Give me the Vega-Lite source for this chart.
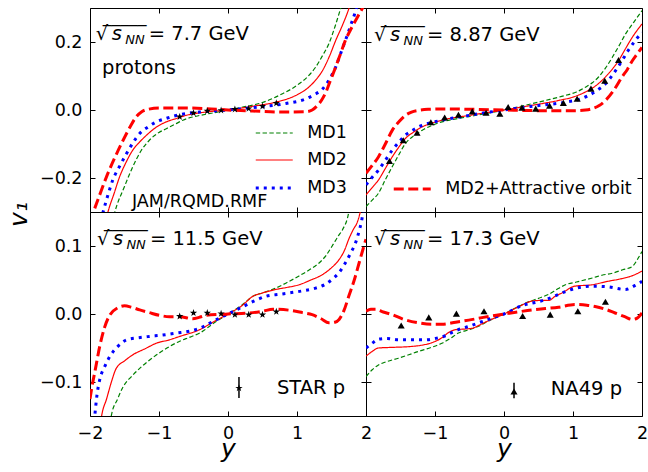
{
"$schema": "https://vega.github.io/schema/vega-lite/v6.json",
"background": "white",
"padding": {"left": 5, "top": 7, "right": 5, "bottom": 5},
"columns": 2,
"spacing": 0,
"bounds": "flush",
"datasets": {
"curves": [
{"panel":"A","model":"MD1","y":-1.70,"v1":-0.35},{"panel":"A","model":"MD1","y":-1.64,"v1":-0.30},{"panel":"A","model":"MD1","y":-1.50,"v1":-0.225},{"panel":"A","model":"MD1","y":-1.38,"v1":-0.167},{"panel":"A","model":"MD1","y":-1.26,"v1":-0.12},{"panel":"A","model":"MD1","y":-1.14,"v1":-0.089},{"panel":"A","model":"MD1","y":-1.0,"v1":-0.066},{"panel":"A","model":"MD1","y":-0.895,"v1":-0.055},{"panel":"A","model":"MD1","y":-0.75,"v1":-0.04},{"panel":"A","model":"MD1","y":-0.655,"v1":-0.03},{"panel":"A","model":"MD1","y":-0.5,"v1":-0.02},{"panel":"A","model":"MD1","y":-0.41,"v1":-0.016},{"panel":"A","model":"MD1","y":-0.2,"v1":-0.008},{"panel":"A","model":"MD1","y":0,"v1":0},{"panel":"A","model":"MD1","y":0.2,"v1":0.008},{"panel":"A","model":"MD1","y":0.45,"v1":0.019},{"panel":"A","model":"MD1","y":0.65,"v1":0.034},{"panel":"A","model":"MD1","y":0.79,"v1":0.048},{"panel":"A","model":"MD1","y":0.92,"v1":0.062},{"panel":"A","model":"MD1","y":1.03,"v1":0.077},{"panel":"A","model":"MD1","y":1.15,"v1":0.097},{"panel":"A","model":"MD1","y":1.27,"v1":0.126},{"panel":"A","model":"MD1","y":1.37,"v1":0.16},{"panel":"A","model":"MD1","y":1.46,"v1":0.194},{"panel":"A","model":"MD1","y":1.55,"v1":0.245},{"panel":"A","model":"MD1","y":1.63,"v1":0.297},{"panel":"A","model":"MD1","y":1.68,"v1":0.33},
{"panel":"A","model":"MD2","y":-1.80,"v1":-0.35},{"panel":"A","model":"MD2","y":-1.74,"v1":-0.30},{"panel":"A","model":"MD2","y":-1.65,"v1":-0.245},{"panel":"A","model":"MD2","y":-1.57,"v1":-0.196},{"panel":"A","model":"MD2","y":-1.48,"v1":-0.155},{"panel":"A","model":"MD2","y":-1.38,"v1":-0.118},{"panel":"A","model":"MD2","y":-1.28,"v1":-0.094},{"panel":"A","model":"MD2","y":-1.18,"v1":-0.074},{"panel":"A","model":"MD2","y":-1.05,"v1":-0.052},{"panel":"A","model":"MD2","y":-0.895,"v1":-0.035},{"panel":"A","model":"MD2","y":-0.75,"v1":-0.025},{"panel":"A","model":"MD2","y":-0.61,"v1":-0.016},{"panel":"A","model":"MD2","y":-0.32,"v1":-0.006},{"panel":"A","model":"MD2","y":0,"v1":0},{"panel":"A","model":"MD2","y":0.36,"v1":0.011},{"panel":"A","model":"MD2","y":0.69,"v1":0.023},{"panel":"A","model":"MD2","y":0.93,"v1":0.038},{"panel":"A","model":"MD2","y":1.05,"v1":0.05},{"panel":"A","model":"MD2","y":1.17,"v1":0.067},{"panel":"A","model":"MD2","y":1.27,"v1":0.088},{"panel":"A","model":"MD2","y":1.37,"v1":0.116},{"panel":"A","model":"MD2","y":1.47,"v1":0.158},{"panel":"A","model":"MD2","y":1.56,"v1":0.204},{"panel":"A","model":"MD2","y":1.66,"v1":0.25},{"panel":"A","model":"MD2","y":1.75,"v1":0.297},{"panel":"A","model":"MD2","y":1.80,"v1":0.33},
{"panel":"A","model":"MD3","y":-1.87,"v1":-0.35},{"panel":"A","model":"MD3","y":-1.81,"v1":-0.30},{"panel":"A","model":"MD3","y":-1.74,"v1":-0.25},{"panel":"A","model":"MD3","y":-1.67,"v1":-0.206},{"panel":"A","model":"MD3","y":-1.57,"v1":-0.165},{"panel":"A","model":"MD3","y":-1.47,"v1":-0.128},{"panel":"A","model":"MD3","y":-1.38,"v1":-0.097},{"panel":"A","model":"MD3","y":-1.28,"v1":-0.069},{"panel":"A","model":"MD3","y":-1.16,"v1":-0.05},{"panel":"A","model":"MD3","y":-1.04,"v1":-0.035},{"panel":"A","model":"MD3","y":-0.9,"v1":-0.025},{"panel":"A","model":"MD3","y":-0.75,"v1":-0.016},{"panel":"A","model":"MD3","y":-0.41,"v1":-0.006},{"panel":"A","model":"MD3","y":0,"v1":0},{"panel":"A","model":"MD3","y":0.45,"v1":0.009},{"panel":"A","model":"MD3","y":0.84,"v1":0.019},{"panel":"A","model":"MD3","y":1.13,"v1":0.033},{"panel":"A","model":"MD3","y":1.25,"v1":0.045},{"panel":"A","model":"MD3","y":1.37,"v1":0.062},{"panel":"A","model":"MD3","y":1.47,"v1":0.09},{"panel":"A","model":"MD3","y":1.56,"v1":0.126},{"panel":"A","model":"MD3","y":1.63,"v1":0.165},{"panel":"A","model":"MD3","y":1.70,"v1":0.204},{"panel":"A","model":"MD3","y":1.78,"v1":0.25},{"panel":"A","model":"MD3","y":1.85,"v1":0.292},{"panel":"A","model":"MD3","y":1.90,"v1":0.33},
{"panel":"A","model":"MD2+Attractive orbit","y":-2.0,"v1":-0.33},{"panel":"A","model":"MD2+Attractive orbit","y":-1.95,"v1":-0.30},{"panel":"A","model":"MD2+Attractive orbit","y":-1.86,"v1":-0.25},{"panel":"A","model":"MD2+Attractive orbit","y":-1.76,"v1":-0.196},{"panel":"A","model":"MD2+Attractive orbit","y":-1.64,"v1":-0.14},{"panel":"A","model":"MD2+Attractive orbit","y":-1.52,"v1":-0.089},{"panel":"A","model":"MD2+Attractive orbit","y":-1.42,"v1":-0.05},{"panel":"A","model":"MD2+Attractive orbit","y":-1.33,"v1":-0.02},{"panel":"A","model":"MD2+Attractive orbit","y":-1.25,"v1":-0.005},{"panel":"A","model":"MD2+Attractive orbit","y":-1.18,"v1":0.001},{"panel":"A","model":"MD2+Attractive orbit","y":-0.99,"v1":0.006},{"panel":"A","model":"MD2+Attractive orbit","y":-0.65,"v1":0.006},{"panel":"A","model":"MD2+Attractive orbit","y":-0.32,"v1":0.004},{"panel":"A","model":"MD2+Attractive orbit","y":0,"v1":0},{"panel":"A","model":"MD2+Attractive orbit","y":0.36,"v1":-0.003},{"panel":"A","model":"MD2+Attractive orbit","y":0.79,"v1":-0.006},{"panel":"A","model":"MD2+Attractive orbit","y":1.13,"v1":-0.005},{"panel":"A","model":"MD2+Attractive orbit","y":1.22,"v1":0.0},{"panel":"A","model":"MD2+Attractive orbit","y":1.29,"v1":0.012},{"panel":"A","model":"MD2+Attractive orbit","y":1.36,"v1":0.03},{"panel":"A","model":"MD2+Attractive orbit","y":1.42,"v1":0.053},{"panel":"A","model":"MD2+Attractive orbit","y":1.49,"v1":0.09},{"panel":"A","model":"MD2+Attractive orbit","y":1.56,"v1":0.126},{"panel":"A","model":"MD2+Attractive orbit","y":1.63,"v1":0.165},{"panel":"A","model":"MD2+Attractive orbit","y":1.70,"v1":0.204},{"panel":"A","model":"MD2+Attractive orbit","y":1.80,"v1":0.245},{"panel":"A","model":"MD2+Attractive orbit","y":1.90,"v1":0.282},{"panel":"A","model":"MD2+Attractive orbit","y":1.95,"v1":0.30},{"panel":"A","model":"MD2+Attractive orbit","y":2.0,"v1":0.32},

{"panel":"B","model":"MD1","y":-2.0,"v1":-0.284},{"panel":"B","model":"MD1","y":-1.91,"v1":-0.265},{"panel":"B","model":"MD1","y":-1.82,"v1":-0.245},{"panel":"B","model":"MD1","y":-1.72,"v1":-0.205},{"panel":"B","model":"MD1","y":-1.62,"v1":-0.167},{"panel":"B","model":"MD1","y":-1.52,"v1":-0.13},{"panel":"B","model":"MD1","y":-1.43,"v1":-0.099},{"panel":"B","model":"MD1","y":-1.31,"v1":-0.076},{"panel":"B","model":"MD1","y":-1.19,"v1":-0.06},{"panel":"B","model":"MD1","y":-1.05,"v1":-0.046},{"panel":"B","model":"MD1","y":-0.9,"v1":-0.035},{"panel":"B","model":"MD1","y":-0.66,"v1":-0.025},{"panel":"B","model":"MD1","y":-0.42,"v1":-0.016},{"panel":"B","model":"MD1","y":0,"v1":0},{"panel":"B","model":"MD1","y":0.31,"v1":0.014},{"panel":"B","model":"MD1","y":0.6,"v1":0.028},{"panel":"B","model":"MD1","y":0.89,"v1":0.043},{"panel":"B","model":"MD1","y":1.05,"v1":0.053},{"panel":"B","model":"MD1","y":1.18,"v1":0.067},{"panel":"B","model":"MD1","y":1.28,"v1":0.08},{"panel":"B","model":"MD1","y":1.37,"v1":0.097},{"panel":"B","model":"MD1","y":1.47,"v1":0.123},{"panel":"B","model":"MD1","y":1.57,"v1":0.155},{"panel":"B","model":"MD1","y":1.67,"v1":0.19},{"panel":"B","model":"MD1","y":1.76,"v1":0.223},{"panel":"B","model":"MD1","y":1.88,"v1":0.258},{"panel":"B","model":"MD1","y":2.0,"v1":0.292},
{"panel":"B","model":"MD2","y":-2.0,"v1":-0.25},{"panel":"B","model":"MD2","y":-1.91,"v1":-0.228},{"panel":"B","model":"MD2","y":-1.82,"v1":-0.206},{"panel":"B","model":"MD2","y":-1.72,"v1":-0.172},{"panel":"B","model":"MD2","y":-1.62,"v1":-0.138},{"panel":"B","model":"MD2","y":-1.52,"v1":-0.108},{"panel":"B","model":"MD2","y":-1.43,"v1":-0.084},{"panel":"B","model":"MD2","y":-1.31,"v1":-0.065},{"panel":"B","model":"MD2","y":-1.19,"v1":-0.05},{"panel":"B","model":"MD2","y":-1.05,"v1":-0.039},{"panel":"B","model":"MD2","y":-0.9,"v1":-0.03},{"panel":"B","model":"MD2","y":-0.51,"v1":-0.016},{"panel":"B","model":"MD2","y":0,"v1":0},{"panel":"B","model":"MD2","y":0.41,"v1":0.014},{"panel":"B","model":"MD2","y":0.79,"v1":0.028},{"panel":"B","model":"MD2","y":1.0,"v1":0.038},{"panel":"B","model":"MD2","y":1.18,"v1":0.053},{"panel":"B","model":"MD2","y":1.3,"v1":0.067},{"panel":"B","model":"MD2","y":1.42,"v1":0.087},{"panel":"B","model":"MD2","y":1.54,"v1":0.113},{"panel":"B","model":"MD2","y":1.66,"v1":0.145},{"panel":"B","model":"MD2","y":1.76,"v1":0.18},{"panel":"B","model":"MD2","y":1.86,"v1":0.214},{"panel":"B","model":"MD2","y":2.0,"v1":0.253},
{"panel":"B","model":"MD3","y":-2.0,"v1":-0.22},{"panel":"B","model":"MD3","y":-1.91,"v1":-0.198},{"panel":"B","model":"MD3","y":-1.82,"v1":-0.177},{"panel":"B","model":"MD3","y":-1.72,"v1":-0.148},{"panel":"B","model":"MD3","y":-1.62,"v1":-0.118},{"panel":"B","model":"MD3","y":-1.52,"v1":-0.094},{"panel":"B","model":"MD3","y":-1.43,"v1":-0.074},{"panel":"B","model":"MD3","y":-1.31,"v1":-0.058},{"panel":"B","model":"MD3","y":-1.19,"v1":-0.045},{"panel":"B","model":"MD3","y":-1.05,"v1":-0.037},{"panel":"B","model":"MD3","y":-0.9,"v1":-0.03},{"panel":"B","model":"MD3","y":-0.51,"v1":-0.016},{"panel":"B","model":"MD3","y":0,"v1":0},{"panel":"B","model":"MD3","y":0.41,"v1":0.011},{"panel":"B","model":"MD3","y":0.89,"v1":0.023},{"panel":"B","model":"MD3","y":1.1,"v1":0.032},{"panel":"B","model":"MD3","y":1.23,"v1":0.043},{"panel":"B","model":"MD3","y":1.35,"v1":0.058},{"panel":"B","model":"MD3","y":1.47,"v1":0.077},{"panel":"B","model":"MD3","y":1.59,"v1":0.108},{"panel":"B","model":"MD3","y":1.71,"v1":0.145},{"panel":"B","model":"MD3","y":1.8,"v1":0.175},{"panel":"B","model":"MD3","y":1.9,"v1":0.204},{"panel":"B","model":"MD3","y":2.0,"v1":0.228},
{"panel":"B","model":"MD2+Attractive orbit","y":-2.0,"v1":-0.186},{"panel":"B","model":"MD2+Attractive orbit","y":-1.91,"v1":-0.163},{"panel":"B","model":"MD2+Attractive orbit","y":-1.82,"v1":-0.138},{"panel":"B","model":"MD2+Attractive orbit","y":-1.72,"v1":-0.1},{"panel":"B","model":"MD2+Attractive orbit","y":-1.62,"v1":-0.06},{"panel":"B","model":"MD2+Attractive orbit","y":-1.52,"v1":-0.034},{"panel":"B","model":"MD2+Attractive orbit","y":-1.43,"v1":-0.016},{"panel":"B","model":"MD2+Attractive orbit","y":-1.34,"v1":-0.006},{"panel":"B","model":"MD2+Attractive orbit","y":-1.24,"v1":-0.001},{"panel":"B","model":"MD2+Attractive orbit","y":-1.1,"v1":0.002},{"panel":"B","model":"MD2+Attractive orbit","y":-0.9,"v1":0.003},{"panel":"B","model":"MD2+Attractive orbit","y":-0.42,"v1":0.002},{"panel":"B","model":"MD2+Attractive orbit","y":0,"v1":0},{"panel":"B","model":"MD2+Attractive orbit","y":0.55,"v1":-0.002},{"panel":"B","model":"MD2+Attractive orbit","y":1.03,"v1":-0.002},{"panel":"B","model":"MD2+Attractive orbit","y":1.18,"v1":0.0},{"panel":"B","model":"MD2+Attractive orbit","y":1.28,"v1":0.004},{"panel":"B","model":"MD2+Attractive orbit","y":1.38,"v1":0.013},{"panel":"B","model":"MD2+Attractive orbit","y":1.47,"v1":0.028},{"panel":"B","model":"MD2+Attractive orbit","y":1.59,"v1":0.058},{"panel":"B","model":"MD2+Attractive orbit","y":1.71,"v1":0.097},{"panel":"B","model":"MD2+Attractive orbit","y":1.79,"v1":0.12},{"panel":"B","model":"MD2+Attractive orbit","y":1.86,"v1":0.145},{"panel":"B","model":"MD2+Attractive orbit","y":1.93,"v1":0.165},{"panel":"B","model":"MD2+Attractive orbit","y":2.0,"v1":0.184},

{"panel":"C","model":"MD1","y":-1.72,"v1":-0.17},{"panel":"C","model":"MD1","y":-1.69,"v1":-0.149},{"panel":"C","model":"MD1","y":-1.6,"v1":-0.125},{"panel":"C","model":"MD1","y":-1.52,"v1":-0.107},{"panel":"C","model":"MD1","y":-1.4,"v1":-0.092},{"panel":"C","model":"MD1","y":-1.28,"v1":-0.08},{"panel":"C","model":"MD1","y":-1.14,"v1":-0.068},{"panel":"C","model":"MD1","y":-0.99,"v1":-0.057},{"panel":"C","model":"MD1","y":-0.85,"v1":-0.048},{"panel":"C","model":"MD1","y":-0.7,"v1":-0.04},{"panel":"C","model":"MD1","y":-0.55,"v1":-0.034},{"panel":"C","model":"MD1","y":-0.41,"v1":-0.028},{"panel":"C","model":"MD1","y":-0.2,"v1":-0.013},{"panel":"C","model":"MD1","y":0,"v1":0},{"panel":"C","model":"MD1","y":0.2,"v1":0.013},{"panel":"C","model":"MD1","y":0.36,"v1":0.026},{"panel":"C","model":"MD1","y":0.5,"v1":0.031},{"panel":"C","model":"MD1","y":0.69,"v1":0.038},{"panel":"C","model":"MD1","y":0.85,"v1":0.046},{"panel":"C","model":"MD1","y":1.03,"v1":0.056},{"panel":"C","model":"MD1","y":1.18,"v1":0.065},{"panel":"C","model":"MD1","y":1.32,"v1":0.075},{"panel":"C","model":"MD1","y":1.42,"v1":0.086},{"panel":"C","model":"MD1","y":1.51,"v1":0.1},{"panel":"C","model":"MD1","y":1.6,"v1":0.115},{"panel":"C","model":"MD1","y":1.66,"v1":0.124},{"panel":"C","model":"MD1","y":1.75,"v1":0.15},{"panel":"C","model":"MD1","y":1.78,"v1":0.17},
{"panel":"C","model":"MD2","y":-1.86,"v1":-0.17},{"panel":"C","model":"MD2","y":-1.83,"v1":-0.149},{"panel":"C","model":"MD2","y":-1.76,"v1":-0.125},{"panel":"C","model":"MD2","y":-1.69,"v1":-0.1},{"panel":"C","model":"MD2","y":-1.62,"v1":-0.08},{"panel":"C","model":"MD2","y":-1.5,"v1":-0.069},{"panel":"C","model":"MD2","y":-1.38,"v1":-0.06},{"panel":"C","model":"MD2","y":-1.2,"v1":-0.051},{"panel":"C","model":"MD2","y":-1.04,"v1":-0.043},{"panel":"C","model":"MD2","y":-0.85,"v1":-0.038},{"panel":"C","model":"MD2","y":-0.7,"v1":-0.033},{"panel":"C","model":"MD2","y":-0.41,"v1":-0.023},{"panel":"C","model":"MD2","y":-0.2,"v1":-0.011},{"panel":"C","model":"MD2","y":0,"v1":0},{"panel":"C","model":"MD2","y":0.2,"v1":0.012},{"panel":"C","model":"MD2","y":0.36,"v1":0.026},{"panel":"C","model":"MD2","y":0.5,"v1":0.031},{"panel":"C","model":"MD2","y":0.69,"v1":0.036},{"panel":"C","model":"MD2","y":0.85,"v1":0.039},{"panel":"C","model":"MD2","y":1.03,"v1":0.043},{"panel":"C","model":"MD2","y":1.2,"v1":0.05},{"panel":"C","model":"MD2","y":1.37,"v1":0.058},{"panel":"C","model":"MD2","y":1.5,"v1":0.068},{"panel":"C","model":"MD2","y":1.61,"v1":0.08},{"panel":"C","model":"MD2","y":1.69,"v1":0.094},{"panel":"C","model":"MD2","y":1.75,"v1":0.11},{"panel":"C","model":"MD2","y":1.82,"v1":0.125},{"panel":"C","model":"MD2","y":1.87,"v1":0.134},{"panel":"C","model":"MD2","y":1.92,"v1":0.152},{"panel":"C","model":"MD2","y":1.95,"v1":0.17},
{"panel":"C","model":"MD3","y":-1.95,"v1":-0.17},{"panel":"C","model":"MD3","y":-1.93,"v1":-0.149},{"panel":"C","model":"MD3","y":-1.9,"v1":-0.12},{"panel":"C","model":"MD3","y":-1.86,"v1":-0.097},{"panel":"C","model":"MD3","y":-1.79,"v1":-0.078},{"panel":"C","model":"MD3","y":-1.71,"v1":-0.062},{"panel":"C","model":"MD3","y":-1.6,"v1":-0.048},{"panel":"C","model":"MD3","y":-1.47,"v1":-0.038},{"panel":"C","model":"MD3","y":-1.3,"v1":-0.035},{"panel":"C","model":"MD3","y":-1.14,"v1":-0.033},{"panel":"C","model":"MD3","y":-0.95,"v1":-0.031},{"panel":"C","model":"MD3","y":-0.75,"v1":-0.028},{"panel":"C","model":"MD3","y":-0.55,"v1":-0.025},{"panel":"C","model":"MD3","y":-0.41,"v1":-0.021},{"panel":"C","model":"MD3","y":-0.2,"v1":-0.01},{"panel":"C","model":"MD3","y":0,"v1":0},{"panel":"C","model":"MD3","y":0.2,"v1":0.01},{"panel":"C","model":"MD3","y":0.4,"v1":0.02},{"panel":"C","model":"MD3","y":0.55,"v1":0.026},{"panel":"C","model":"MD3","y":0.75,"v1":0.029},{"panel":"C","model":"MD3","y":0.89,"v1":0.031},{"panel":"C","model":"MD3","y":1.08,"v1":0.034},{"panel":"C","model":"MD3","y":1.27,"v1":0.038},{"panel":"C","model":"MD3","y":1.4,"v1":0.043},{"panel":"C","model":"MD3","y":1.51,"v1":0.051},{"panel":"C","model":"MD3","y":1.61,"v1":0.061},{"panel":"C","model":"MD3","y":1.7,"v1":0.075},{"panel":"C","model":"MD3","y":1.78,"v1":0.09},{"panel":"C","model":"MD3","y":1.85,"v1":0.105},{"panel":"C","model":"MD3","y":1.9,"v1":0.122},{"panel":"C","model":"MD3","y":1.94,"v1":0.139},{"panel":"C","model":"MD3","y":1.97,"v1":0.16},
{"panel":"C","model":"MD2+Attractive orbit","y":-2.0,"v1":-0.125},{"panel":"C","model":"MD2+Attractive orbit","y":-1.98,"v1":-0.112},{"panel":"C","model":"MD2+Attractive orbit","y":-1.92,"v1":-0.08},{"panel":"C","model":"MD2+Attractive orbit","y":-1.86,"v1":-0.048},{"panel":"C","model":"MD2+Attractive orbit","y":-1.79,"v1":-0.02},{"panel":"C","model":"MD2+Attractive orbit","y":-1.71,"v1":-0.001},{"panel":"C","model":"MD2+Attractive orbit","y":-1.6,"v1":0.009},{"panel":"C","model":"MD2+Attractive orbit","y":-1.5,"v1":0.012},{"panel":"C","model":"MD2+Attractive orbit","y":-1.4,"v1":0.01},{"panel":"C","model":"MD2+Attractive orbit","y":-1.28,"v1":0.006},{"panel":"C","model":"MD2+Attractive orbit","y":-1.14,"v1":0.002},{"panel":"C","model":"MD2+Attractive orbit","y":-0.99,"v1":-0.002},{"panel":"C","model":"MD2+Attractive orbit","y":-0.85,"v1":-0.004},{"panel":"C","model":"MD2+Attractive orbit","y":-0.7,"v1":-0.004},{"panel":"C","model":"MD2+Attractive orbit","y":-0.51,"v1":-0.007},{"panel":"C","model":"MD2+Attractive orbit","y":-0.42,"v1":-0.005},{"panel":"C","model":"MD2+Attractive orbit","y":-0.32,"v1":-0.002},{"panel":"C","model":"MD2+Attractive orbit","y":0,"v1":0},{"panel":"C","model":"MD2+Attractive orbit","y":0.31,"v1":0.0015},{"panel":"C","model":"MD2+Attractive orbit","y":0.5,"v1":0.004},{"panel":"C","model":"MD2+Attractive orbit","y":0.65,"v1":0.007},{"panel":"C","model":"MD2+Attractive orbit","y":0.93,"v1":0.005},{"panel":"C","model":"MD2+Attractive orbit","y":1.08,"v1":0.002},{"panel":"C","model":"MD2+Attractive orbit","y":1.22,"v1":-0.001},{"panel":"C","model":"MD2+Attractive orbit","y":1.35,"v1":-0.007},{"panel":"C","model":"MD2+Attractive orbit","y":1.46,"v1":-0.013},{"panel":"C","model":"MD2+Attractive orbit","y":1.55,"v1":-0.012},{"panel":"C","model":"MD2+Attractive orbit","y":1.61,"v1":-0.008},{"panel":"C","model":"MD2+Attractive orbit","y":1.68,"v1":0.005},{"panel":"C","model":"MD2+Attractive orbit","y":1.75,"v1":0.026},{"panel":"C","model":"MD2+Attractive orbit","y":1.83,"v1":0.05},{"panel":"C","model":"MD2+Attractive orbit","y":1.9,"v1":0.075},{"panel":"C","model":"MD2+Attractive orbit","y":1.95,"v1":0.093},{"panel":"C","model":"MD2+Attractive orbit","y":2.0,"v1":0.11},

{"panel":"D","model":"MD1","y":-2.0,"v1":-0.092},{"panel":"D","model":"MD1","y":-1.91,"v1":-0.082},{"panel":"D","model":"MD1","y":-1.82,"v1":-0.075},{"panel":"D","model":"MD1","y":-1.7,"v1":-0.07},{"panel":"D","model":"MD1","y":-1.53,"v1":-0.065},{"panel":"D","model":"MD1","y":-1.38,"v1":-0.06},{"panel":"D","model":"MD1","y":-1.24,"v1":-0.055},{"panel":"D","model":"MD1","y":-1.05,"v1":-0.049},{"panel":"D","model":"MD1","y":-0.9,"v1":-0.043},{"panel":"D","model":"MD1","y":-0.78,"v1":-0.036},{"panel":"D","model":"MD1","y":-0.66,"v1":-0.028},{"panel":"D","model":"MD1","y":-0.5,"v1":-0.023},{"panel":"D","model":"MD1","y":-0.37,"v1":-0.018},{"panel":"D","model":"MD1","y":-0.2,"v1":-0.009},{"panel":"D","model":"MD1","y":0,"v1":0},{"panel":"D","model":"MD1","y":0.15,"v1":0.008},{"panel":"D","model":"MD1","y":0.31,"v1":0.016},{"panel":"D","model":"MD1","y":0.5,"v1":0.023},{"panel":"D","model":"MD1","y":0.65,"v1":0.029},{"panel":"D","model":"MD1","y":0.78,"v1":0.037},{"panel":"D","model":"MD1","y":0.89,"v1":0.043},{"panel":"D","model":"MD1","y":1.05,"v1":0.047},{"panel":"D","model":"MD1","y":1.28,"v1":0.053},{"panel":"D","model":"MD1","y":1.42,"v1":0.057},{"panel":"D","model":"MD1","y":1.57,"v1":0.06},{"panel":"D","model":"MD1","y":1.72,"v1":0.065},{"panel":"D","model":"MD1","y":1.86,"v1":0.07},{"panel":"D","model":"MD1","y":1.95,"v1":0.083},{"panel":"D","model":"MD1","y":2.0,"v1":0.092},
{"panel":"D","model":"MD2","y":-2.0,"v1":-0.062},{"panel":"D","model":"MD2","y":-1.91,"v1":-0.055},{"panel":"D","model":"MD2","y":-1.82,"v1":-0.05},{"panel":"D","model":"MD2","y":-1.6,"v1":-0.049},{"panel":"D","model":"MD2","y":-1.38,"v1":-0.048},{"panel":"D","model":"MD2","y":-1.2,"v1":-0.046},{"panel":"D","model":"MD2","y":-1.04,"v1":-0.042},{"panel":"D","model":"MD2","y":-0.9,"v1":-0.035},{"panel":"D","model":"MD2","y":-0.8,"v1":-0.027},{"panel":"D","model":"MD2","y":-0.7,"v1":-0.023},{"panel":"D","model":"MD2","y":-0.55,"v1":-0.022},{"panel":"D","model":"MD2","y":-0.46,"v1":-0.021},{"panel":"D","model":"MD2","y":-0.35,"v1":-0.016},{"panel":"D","model":"MD2","y":-0.27,"v1":-0.012},{"panel":"D","model":"MD2","y":0,"v1":0},{"panel":"D","model":"MD2","y":0.2,"v1":0.01},{"panel":"D","model":"MD2","y":0.41,"v1":0.019},{"panel":"D","model":"MD2","y":0.55,"v1":0.02},{"panel":"D","model":"MD2","y":0.65,"v1":0.02},{"panel":"D","model":"MD2","y":0.74,"v1":0.026},{"panel":"D","model":"MD2","y":0.84,"v1":0.031},{"panel":"D","model":"MD2","y":1.03,"v1":0.041},{"panel":"D","model":"MD2","y":1.28,"v1":0.043},{"panel":"D","model":"MD2","y":1.5,"v1":0.048},{"panel":"D","model":"MD2","y":1.66,"v1":0.051},{"panel":"D","model":"MD2","y":1.85,"v1":0.056},{"panel":"D","model":"MD2","y":2.0,"v1":0.063},
{"panel":"D","model":"MD3","y":-2.0,"v1":-0.05},{"panel":"D","model":"MD3","y":-1.91,"v1":-0.043},{"panel":"D","model":"MD3","y":-1.82,"v1":-0.037},{"panel":"D","model":"MD3","y":-1.7,"v1":-0.036},{"panel":"D","model":"MD3","y":-1.53,"v1":-0.038},{"panel":"D","model":"MD3","y":-1.3,"v1":-0.038},{"panel":"D","model":"MD3","y":-1.14,"v1":-0.038},{"panel":"D","model":"MD3","y":-1.0,"v1":-0.036},{"panel":"D","model":"MD3","y":-0.85,"v1":-0.032},{"panel":"D","model":"MD3","y":-0.75,"v1":-0.027},{"panel":"D","model":"MD3","y":-0.66,"v1":-0.023},{"panel":"D","model":"MD3","y":-0.5,"v1":-0.018},{"panel":"D","model":"MD3","y":-0.37,"v1":-0.013},{"panel":"D","model":"MD3","y":-0.2,"v1":-0.007},{"panel":"D","model":"MD3","y":0,"v1":0},{"panel":"D","model":"MD3","y":0.31,"v1":0.014},{"panel":"D","model":"MD3","y":0.45,"v1":0.017},{"panel":"D","model":"MD3","y":0.6,"v1":0.021},{"panel":"D","model":"MD3","y":0.75,"v1":0.027},{"panel":"D","model":"MD3","y":0.89,"v1":0.033},{"panel":"D","model":"MD3","y":1.05,"v1":0.038},{"panel":"D","model":"MD3","y":1.28,"v1":0.041},{"panel":"D","model":"MD3","y":1.5,"v1":0.04},{"panel":"D","model":"MD3","y":1.76,"v1":0.036},{"panel":"D","model":"MD3","y":1.9,"v1":0.042},{"panel":"D","model":"MD3","y":2.0,"v1":0.048},
{"panel":"D","model":"MD2+Attractive orbit","y":-2.0,"v1":0.004},{"panel":"D","model":"MD2+Attractive orbit","y":-1.93,"v1":0.007},{"panel":"D","model":"MD2+Attractive orbit","y":-1.86,"v1":0.007},{"panel":"D","model":"MD2+Attractive orbit","y":-1.75,"v1":0.003},{"panel":"D","model":"MD2+Attractive orbit","y":-1.62,"v1":-0.001},{"panel":"D","model":"MD2+Attractive orbit","y":-1.45,"v1":-0.008},{"panel":"D","model":"MD2+Attractive orbit","y":-1.24,"v1":-0.013},{"panel":"D","model":"MD2+Attractive orbit","y":-1.05,"v1":-0.015},{"panel":"D","model":"MD2+Attractive orbit","y":-0.9,"v1":-0.015},{"panel":"D","model":"MD2+Attractive orbit","y":-0.7,"v1":-0.012},{"panel":"D","model":"MD2+Attractive orbit","y":-0.51,"v1":-0.009},{"panel":"D","model":"MD2+Attractive orbit","y":-0.3,"v1":-0.005},{"panel":"D","model":"MD2+Attractive orbit","y":0,"v1":0},{"panel":"D","model":"MD2+Attractive orbit","y":0.2,"v1":0.003},{"panel":"D","model":"MD2+Attractive orbit","y":0.41,"v1":0.006},{"panel":"D","model":"MD2+Attractive orbit","y":0.6,"v1":0.008},{"panel":"D","model":"MD2+Attractive orbit","y":0.79,"v1":0.01},{"panel":"D","model":"MD2+Attractive orbit","y":1.03,"v1":0.014},{"panel":"D","model":"MD2+Attractive orbit","y":1.2,"v1":0.013},{"panel":"D","model":"MD2+Attractive orbit","y":1.32,"v1":0.011},{"panel":"D","model":"MD2+Attractive orbit","y":1.47,"v1":0.007},{"panel":"D","model":"MD2+Attractive orbit","y":1.61,"v1":0.0015},{"panel":"D","model":"MD2+Attractive orbit","y":1.75,"v1":-0.004},{"panel":"D","model":"MD2+Attractive orbit","y":1.86,"v1":-0.008},{"panel":"D","model":"MD2+Attractive orbit","y":1.93,"v1":-0.006},{"panel":"D","model":"MD2+Attractive orbit","y":2.0,"v1":0.0015}
],
"points": [
{"panel":"A","y":-0.7,"v1":-0.02},{"panel":"A","y":-0.5,"v1":-0.009},{"panel":"A","y":-0.3,"v1":-0.003},{"panel":"A","y":-0.1,"v1":-0.001},{"panel":"A","y":0.1,"v1":0.002},{"panel":"A","y":0.3,"v1":0.004},{"panel":"A","y":0.5,"v1":0.011},{"panel":"A","y":0.7,"v1":0.02},
{"panel":"B","y":-1.66,"v1":-0.15},{"panel":"B","y":-1.46,"v1":-0.089},{"panel":"B","y":-1.26,"v1":-0.067},{"panel":"B","y":-1.06,"v1":-0.036},{"panel":"B","y":-0.86,"v1":-0.022},{"panel":"B","y":-0.66,"v1":-0.014},{"panel":"B","y":-0.46,"v1":-0.004},{"panel":"B","y":-0.26,"v1":-0.008},{"panel":"B","y":-0.06,"v1":-0.011},{"panel":"B","y":0.06,"v1":0.009},{"panel":"B","y":0.26,"v1":0.007},{"panel":"B","y":0.46,"v1":0.004},{"panel":"B","y":0.66,"v1":0.013},{"panel":"B","y":0.86,"v1":0.021},{"panel":"B","y":1.06,"v1":0.033},{"panel":"B","y":1.26,"v1":0.063},{"panel":"B","y":1.46,"v1":0.086},{"panel":"B","y":1.66,"v1":0.147},
{"panel":"C","y":-0.7,"v1":-0.0034},{"panel":"C","y":-0.5,"v1":0.0015},{"panel":"C","y":-0.3,"v1":0.0015},{"panel":"C","y":-0.1,"v1":0.0005},{"panel":"C","y":0.1,"v1":-0.001},{"panel":"C","y":0.3,"v1":-0.001},{"panel":"C","y":0.5,"v1":-0.001},{"panel":"C","y":0.7,"v1":0.0034},
{"panel":"D","y":-1.49,"v1":-0.017},{"panel":"D","y":-1.09,"v1":-0.005},{"panel":"D","y":-0.69,"v1":0.0005},{"panel":"D","y":-0.29,"v1":0.004},{"panel":"D","y":0.27,"v1":-0.003},{"panel":"D","y":0.67,"v1":-0.001},{"panel":"D","y":1.07,"v1":0.004},{"panel":"D","y":1.47,"v1":0.018}
]
},
"concat": [
{
"width": 276, "height": 204,
"resolve": {"axis": {"x": "independent", "y": "independent"}},
"layer": [
{"data": {"name": "curves"}, "transform": [{"filter": "datum.panel == 'A'"}],
 "mark": {"type": "line", "clip": true, "interpolate": "monotone"},
 "encoding": {
  "x": {"field": "y", "type": "quantitative", "scale": {"domain": [-2, 2], "nice": false, "zero": false}, "axis": {"values": [-2,-1,0,1,2], "labels": false, "title": null}},
  "y": {"field": "v1", "type": "quantitative", "scale": {"domain": [-0.3, 0.3], "nice": false, "zero": false}, "axis": {"values": [-0.2, 0, 0.2], "format": ".1f", "title": "v₁", "titleX": -72, "titleY": 206, "titleAngle": -90, "titleAlign": "center", "titleBaseline": "middle"}},
  "color": {"field": "model", "type": "nominal", "scale": {"domain": ["MD1","MD2","MD3","MD2+Attractive orbit"], "range": ["#008000","#ff0000","#0000ff","#ff0000"]}, "legend": {"values": ["MD1","MD2","MD3"], "orient": "none", "legendX": 164, "legendY": 115, "title": null, "symbolType": "M-2,0H2", "symbolSize": 342, "symbolOffset": 9.25, "labelOffset": 22, "labelLimit": 400, "rowPadding": 8, "padding": 0}},
  "strokeDash": {"field": "model", "type": "nominal", "scale": {"domain": ["MD1","MD2","MD3","MD2+Attractive orbit"], "range": [[4.4,2.4],[1,0],[3,5],[10,4.5]]}, "legend": {"values": ["MD1","MD2","MD3"], "orient": "none", "legendX": 164, "legendY": 115, "title": null, "symbolType": "M-2,0H2", "symbolSize": 342, "symbolOffset": 9.25, "labelOffset": 22, "labelLimit": 400, "rowPadding": 8, "padding": 0}},
  "strokeWidth": {"field": "model", "type": "nominal", "scale": {"type": "ordinal", "domain": ["MD1","MD2","MD3","MD2+Attractive orbit"], "range": [1.2,1.2,3,3]}, "legend": {"values": ["MD1","MD2","MD3"], "orient": "none", "legendX": 164, "legendY": 115, "title": null, "symbolType": "M-2,0H2", "symbolSize": 342, "symbolOffset": 9.25, "labelOffset": 22, "labelLimit": 400, "rowPadding": 8, "padding": 0}}
 }},
{"data": {"name": "points"}, "transform": [{"filter": "datum.panel == 'A'"}],
 "mark": {"type": "point", "shape": "M0,-1L0.2245,-0.309L0.951,-0.309L0.363,0.118L0.588,0.809L0,0.382L-0.588,0.809L-0.363,0.118L-0.951,-0.309L-0.2245,-0.309Z", "filled": true, "color": "black", "opacity": 1, "size": 60},
 "encoding": {
  "x": {"field": "y", "type": "quantitative", "axis": {"orient": "top", "values": [-2,-1,0,1,2], "labels": false, "title": null}},
  "y": {"field": "v1", "type": "quantitative", "axis": {"orient": "right", "values": [-0.2, 0, 0.2], "labels": false, "title": null}}
 }},
{"data": {"values": [{}]}, "mark": {"type": "text", "text": "√", "align": "left", "baseline": "alphabetic", "fontSize": 19.5, "color": "black"},
 "encoding": {"x": {"datum": -1.917, "type": "quantitative", "axis": null}, "y": {"datum": 0.206, "type": "quantitative", "axis": null}}},
{"data": {"values": [{}]}, "mark": {"type": "text", "text": "s", "dx": 16, "fontStyle": "italic", "align": "left", "baseline": "alphabetic", "fontSize": 19.5, "color": "black"},
 "encoding": {"x": {"datum": -1.917, "type": "quantitative", "axis": null}, "y": {"datum": 0.206, "type": "quantitative", "axis": null}}},
{"data": {"values": [{}]}, "mark": {"type": "text", "text": "NN", "dx": 29.5, "dy": 4.5, "fontStyle": "italic", "align": "left", "baseline": "alphabetic", "fontSize": 13, "color": "black"},
 "encoding": {"x": {"datum": -1.917, "type": "quantitative", "axis": null}, "y": {"datum": 0.206, "type": "quantitative", "axis": null}}},
{"data": {"values": [{}]}, "mark": {"type": "text", "text": "‾‾‾‾‾", "dx": 7, "dy": -2, "align": "left", "baseline": "alphabetic", "fontSize": 17.5, "color": "black"},
 "encoding": {"x": {"datum": -1.917, "type": "quantitative", "axis": null}, "y": {"datum": 0.206, "type": "quantitative", "axis": null}}},
{"data": {"values": [{}]}, "mark": {"type": "text", "text": "= 7.7 GeV", "dx": 53, "align": "left", "baseline": "alphabetic", "fontSize": 19.5, "color": "black"},
 "encoding": {"x": {"datum": -1.917, "type": "quantitative", "axis": null}, "y": {"datum": 0.206, "type": "quantitative", "axis": null}}},
{"data": {"values": [{}]}, "mark": {"type": "text", "text": "protons", "align": "left", "baseline": "alphabetic", "fontSize": 19.5, "color": "black"},
 "encoding": {"x": {"datum": -1.826, "type": "quantitative", "axis": null}, "y": {"datum": 0.1065, "type": "quantitative", "axis": null}}},
{"data": {"values": [{}]}, "mark": {"type": "text", "text": "JAM/RQMD.RMF", "align": "left", "baseline": "alphabetic", "fontSize": 17.5, "color": "black"},
 "encoding": {"x": {"datum": -1.391, "type": "quantitative", "axis": null}, "y": {"datum": -0.285, "type": "quantitative", "axis": null}}}
]
},
{
"width": 276, "height": 204,
"resolve": {"axis": {"x": "independent", "y": "independent"}},
"layer": [
{"data": {"name": "curves"}, "transform": [{"filter": "datum.panel == 'B'"}],
 "mark": {"type": "line", "clip": true, "interpolate": "monotone"},
 "encoding": {
  "x": {"field": "y", "type": "quantitative", "scale": {"domain": [-2, 2], "nice": false, "zero": false}, "axis": {"values": [-2,-1,0,1,2], "labels": false, "title": null}},
  "y": {"field": "v1", "type": "quantitative", "scale": {"domain": [-0.3, 0.3], "nice": false, "zero": false}, "axis": {"values": [-0.2, 0, 0.2], "labels": false, "title": null}},
  "color": {"field": "model", "type": "nominal", "scale": {"domain": ["MD1","MD2","MD3","MD2+Attractive orbit"], "range": ["#008000","#ff0000","#0000ff","#ff0000"]}, "legend": {"values": ["MD2+Attractive orbit"], "orient": "none", "legendX": 26, "legendY": 170, "title": null, "symbolType": "M-2,0H2", "symbolSize": 342, "symbolOffset": 9.25, "labelOffset": 22, "labelLimit": 400, "rowPadding": 8, "padding": 0}},
  "strokeDash": {"field": "model", "type": "nominal", "scale": {"domain": ["MD1","MD2","MD3","MD2+Attractive orbit"], "range": [[4.4,2.4],[1,0],[3,5],[10,4.5]]}, "legend": {"values": ["MD2+Attractive orbit"], "orient": "none", "legendX": 26, "legendY": 170, "title": null, "symbolType": "M-2,0H2", "symbolSize": 342, "symbolOffset": 9.25, "labelOffset": 22, "labelLimit": 400, "rowPadding": 8, "padding": 0}},
  "strokeWidth": {"field": "model", "type": "nominal", "scale": {"type": "ordinal", "domain": ["MD1","MD2","MD3","MD2+Attractive orbit"], "range": [1.2,1.2,3,3]}, "legend": {"values": ["MD2+Attractive orbit"], "orient": "none", "legendX": 26, "legendY": 170, "title": null, "symbolType": "M-2,0H2", "symbolSize": 342, "symbolOffset": 9.25, "labelOffset": 22, "labelLimit": 400, "rowPadding": 8, "padding": 0}}
 }},
{"data": {"name": "points"}, "transform": [{"filter": "datum.panel == 'B'"}],
 "mark": {"type": "point", "shape": "triangle-up", "filled": true, "color": "black", "opacity": 1, "size": 50},
 "encoding": {
  "x": {"field": "y", "type": "quantitative", "axis": {"orient": "top", "values": [-2,-1,0,1,2], "labels": false, "title": null}},
  "y": {"field": "v1", "type": "quantitative", "axis": {"orient": "right", "values": [-0.2, 0, 0.2], "labels": false, "title": null}}
 }},
{"data": {"values": [{}]}, "mark": {"type": "text", "text": "√", "align": "left", "baseline": "alphabetic", "fontSize": 19.5, "color": "black"},
 "encoding": {"x": {"datum": -1.884, "type": "quantitative", "axis": null}, "y": {"datum": 0.204, "type": "quantitative", "axis": null}}},
{"data": {"values": [{}]}, "mark": {"type": "text", "text": "s", "dx": 16, "fontStyle": "italic", "align": "left", "baseline": "alphabetic", "fontSize": 19.5, "color": "black"},
 "encoding": {"x": {"datum": -1.884, "type": "quantitative", "axis": null}, "y": {"datum": 0.204, "type": "quantitative", "axis": null}}},
{"data": {"values": [{}]}, "mark": {"type": "text", "text": "NN", "dx": 29.5, "dy": 4.5, "fontStyle": "italic", "align": "left", "baseline": "alphabetic", "fontSize": 13, "color": "black"},
 "encoding": {"x": {"datum": -1.884, "type": "quantitative", "axis": null}, "y": {"datum": 0.204, "type": "quantitative", "axis": null}}},
{"data": {"values": [{}]}, "mark": {"type": "text", "text": "‾‾‾‾‾", "dx": 7, "dy": -2, "align": "left", "baseline": "alphabetic", "fontSize": 17.5, "color": "black"},
 "encoding": {"x": {"datum": -1.884, "type": "quantitative", "axis": null}, "y": {"datum": 0.204, "type": "quantitative", "axis": null}}},
{"data": {"values": [{}]}, "mark": {"type": "text", "text": "= 8.87 GeV", "dx": 53, "align": "left", "baseline": "alphabetic", "fontSize": 19.5, "color": "black"},
 "encoding": {"x": {"datum": -1.884, "type": "quantitative", "axis": null}, "y": {"datum": 0.204, "type": "quantitative", "axis": null}}}
]
},
{
"width": 276, "height": 204,
"resolve": {"axis": {"x": "independent", "y": "independent"}},
"layer": [
{"data": {"name": "curves"}, "transform": [{"filter": "datum.panel == 'C'"}],
 "mark": {"type": "line", "clip": true, "interpolate": "monotone"},
 "encoding": {
  "x": {"field": "y", "type": "quantitative", "scale": {"domain": [-2, 2], "nice": false, "zero": false}, "axis": {"values": [-2,-1,0,1,2], "format": "d", "title": "y", "titlePadding": -5}},
  "y": {"field": "v1", "type": "quantitative", "scale": {"domain": [-0.15, 0.15], "nice": false, "zero": false}, "axis": {"values": [-0.1, 0, 0.1], "format": ".1f", "title": null}},
  "color": {"field": "model", "type": "nominal", "scale": {"domain": ["MD1","MD2","MD3","MD2+Attractive orbit"], "range": ["#008000","#ff0000","#0000ff","#ff0000"]}, "legend": null},
  "strokeDash": {"field": "model", "type": "nominal", "scale": {"domain": ["MD1","MD2","MD3","MD2+Attractive orbit"], "range": [[4.4,2.4],[1,0],[3,5],[10,4.5]]}, "legend": null},
  "strokeWidth": {"field": "model", "type": "nominal", "scale": {"type": "ordinal", "domain": ["MD1","MD2","MD3","MD2+Attractive orbit"], "range": [1.2,1.2,3,3]}, "legend": null}
 }},
{"data": {"name": "points"}, "transform": [{"filter": "datum.panel == 'C'"}],
 "mark": {"type": "point", "shape": "M0,-1L0.2245,-0.309L0.951,-0.309L0.363,0.118L0.588,0.809L0,0.382L-0.588,0.809L-0.363,0.118L-0.951,-0.309L-0.2245,-0.309Z", "filled": true, "color": "black", "opacity": 1, "size": 60},
 "encoding": {
  "x": {"field": "y", "type": "quantitative", "axis": {"orient": "top", "values": [-2,-1,0,1,2], "labels": false, "title": null}},
  "y": {"field": "v1", "type": "quantitative", "axis": {"orient": "right", "values": [-0.1, 0, 0.1], "labels": false, "title": null}}
 }},
{"data": {"values": [{}]}, "mark": {"type": "rule", "color": "black", "strokeWidth": 1.5},
 "encoding": {"x": {"datum": 0.159, "type": "quantitative", "axis": null}, "y": {"datum": -0.0925, "type": "quantitative", "axis": null}, "y2": {"datum": -0.1235}}},
{"data": {"values": [{}]}, "mark": {"type": "point", "shape": "M0,-1L0.2245,-0.309L0.951,-0.309L0.363,0.118L0.588,0.809L0,0.382L-0.588,0.809L-0.363,0.118L-0.951,-0.309L-0.2245,-0.309Z", "filled": true, "color": "black", "opacity": 1, "size": 60},
 "encoding": {"x": {"datum": 0.159, "type": "quantitative", "axis": null}, "y": {"datum": -0.109, "type": "quantitative", "axis": null}}},
{"data": {"values": [{}]}, "mark": {"type": "text", "text": "STAR p", "align": "left", "baseline": "alphabetic", "fontSize": 19.5, "color": "black"},
 "encoding": {"x": {"datum": 0.71, "type": "quantitative", "axis": null}, "y": {"datum": -0.118, "type": "quantitative", "axis": null}}},
{"data": {"values": [{}]}, "mark": {"type": "text", "text": "√", "align": "left", "baseline": "alphabetic", "fontSize": 19.5, "color": "black"},
 "encoding": {"x": {"datum": -1.9, "type": "quantitative", "axis": null}, "y": {"datum": 0.102, "type": "quantitative", "axis": null}}},
{"data": {"values": [{}]}, "mark": {"type": "text", "text": "s", "dx": 16, "fontStyle": "italic", "align": "left", "baseline": "alphabetic", "fontSize": 19.5, "color": "black"},
 "encoding": {"x": {"datum": -1.9, "type": "quantitative", "axis": null}, "y": {"datum": 0.102, "type": "quantitative", "axis": null}}},
{"data": {"values": [{}]}, "mark": {"type": "text", "text": "NN", "dx": 29.5, "dy": 4.5, "fontStyle": "italic", "align": "left", "baseline": "alphabetic", "fontSize": 13, "color": "black"},
 "encoding": {"x": {"datum": -1.9, "type": "quantitative", "axis": null}, "y": {"datum": 0.102, "type": "quantitative", "axis": null}}},
{"data": {"values": [{}]}, "mark": {"type": "text", "text": "‾‾‾‾‾", "dx": 7, "dy": -2, "align": "left", "baseline": "alphabetic", "fontSize": 17.5, "color": "black"},
 "encoding": {"x": {"datum": -1.9, "type": "quantitative", "axis": null}, "y": {"datum": 0.102, "type": "quantitative", "axis": null}}},
{"data": {"values": [{}]}, "mark": {"type": "text", "text": "= 11.5 GeV", "dx": 53, "align": "left", "baseline": "alphabetic", "fontSize": 19.5, "color": "black"},
 "encoding": {"x": {"datum": -1.9, "type": "quantitative", "axis": null}, "y": {"datum": 0.102, "type": "quantitative", "axis": null}}}
]
},
{
"width": 276, "height": 204,
"resolve": {"axis": {"x": "independent", "y": "independent"}},
"layer": [
{"data": {"name": "curves"}, "transform": [{"filter": "datum.panel == 'D'"}],
 "mark": {"type": "line", "clip": true, "interpolate": "monotone"},
 "encoding": {
  "x": {"field": "y", "type": "quantitative", "scale": {"domain": [-2, 2], "nice": false, "zero": false}, "axis": {"values": [-2,-1,0,1,2], "format": "d", "labelExpr": "datum.value == -2 ? '' : datum.label", "title": "y", "titlePadding": -5}},
  "y": {"field": "v1", "type": "quantitative", "scale": {"domain": [-0.15, 0.15], "nice": false, "zero": false}, "axis": {"values": [-0.1, 0, 0.1], "labels": false, "title": null}},
  "color": {"field": "model", "type": "nominal", "scale": {"domain": ["MD1","MD2","MD3","MD2+Attractive orbit"], "range": ["#008000","#ff0000","#0000ff","#ff0000"]}, "legend": null},
  "strokeDash": {"field": "model", "type": "nominal", "scale": {"domain": ["MD1","MD2","MD3","MD2+Attractive orbit"], "range": [[4.4,2.4],[1,0],[3,5],[10,4.5]]}, "legend": null},
  "strokeWidth": {"field": "model", "type": "nominal", "scale": {"type": "ordinal", "domain": ["MD1","MD2","MD3","MD2+Attractive orbit"], "range": [1.2,1.2,3,3]}, "legend": null}
 }},
{"data": {"name": "points"}, "transform": [{"filter": "datum.panel == 'D'"}],
 "mark": {"type": "point", "shape": "triangle-up", "filled": true, "color": "black", "opacity": 1, "size": 50},
 "encoding": {
  "x": {"field": "y", "type": "quantitative", "axis": {"orient": "top", "values": [-2,-1,0,1,2], "labels": false, "title": null}},
  "y": {"field": "v1", "type": "quantitative", "axis": {"orient": "right", "values": [-0.1, 0, 0.1], "labels": false, "title": null}}
 }},
{"data": {"values": [{}]}, "mark": {"type": "rule", "color": "black", "strokeWidth": 1.5},
 "encoding": {"x": {"datum": 0.145, "type": "quantitative", "axis": null}, "y": {"datum": -0.101, "type": "quantitative", "axis": null}, "y2": {"datum": -0.124}}},
{"data": {"values": [{}]}, "mark": {"type": "point", "shape": "triangle-up", "filled": true, "color": "black", "opacity": 1, "size": 50},
 "encoding": {"x": {"datum": 0.145, "type": "quantitative", "axis": null}, "y": {"datum": -0.114, "type": "quantitative", "axis": null}}},
{"data": {"values": [{}]}, "mark": {"type": "text", "text": "NA49 p", "align": "left", "baseline": "alphabetic", "fontSize": 19.5, "color": "black"},
 "encoding": {"x": {"datum": 0.677, "type": "quantitative", "axis": null}, "y": {"datum": -0.119, "type": "quantitative", "axis": null}}},
{"data": {"values": [{}]}, "mark": {"type": "text", "text": "√", "align": "left", "baseline": "alphabetic", "fontSize": 19.5, "color": "black"},
 "encoding": {"x": {"datum": -1.884, "type": "quantitative", "axis": null}, "y": {"datum": 0.102, "type": "quantitative", "axis": null}}},
{"data": {"values": [{}]}, "mark": {"type": "text", "text": "s", "dx": 16, "fontStyle": "italic", "align": "left", "baseline": "alphabetic", "fontSize": 19.5, "color": "black"},
 "encoding": {"x": {"datum": -1.884, "type": "quantitative", "axis": null}, "y": {"datum": 0.102, "type": "quantitative", "axis": null}}},
{"data": {"values": [{}]}, "mark": {"type": "text", "text": "NN", "dx": 29.5, "dy": 4.5, "fontStyle": "italic", "align": "left", "baseline": "alphabetic", "fontSize": 13, "color": "black"},
 "encoding": {"x": {"datum": -1.884, "type": "quantitative", "axis": null}, "y": {"datum": 0.102, "type": "quantitative", "axis": null}}},
{"data": {"values": [{}]}, "mark": {"type": "text", "text": "‾‾‾‾‾", "dx": 7, "dy": -2, "align": "left", "baseline": "alphabetic", "fontSize": 17.5, "color": "black"},
 "encoding": {"x": {"datum": -1.884, "type": "quantitative", "axis": null}, "y": {"datum": 0.102, "type": "quantitative", "axis": null}}},
{"data": {"values": [{}]}, "mark": {"type": "text", "text": "= 17.3 GeV", "dx": 53, "align": "left", "baseline": "alphabetic", "fontSize": 19.5, "color": "black"},
 "encoding": {"x": {"datum": -1.884, "type": "quantitative", "axis": null}, "y": {"datum": 0.102, "type": "quantitative", "axis": null}}}
]
}
],
"resolve": {"scale": {"color": "independent", "strokeDash": "independent", "strokeWidth": "independent"}},
"config": {
 "font": "DejaVu Sans",
 "view": {"stroke": "black", "strokeWidth": 1},
 "concat": {"spacing": 0},
 "axis": {"grid": false, "domain": false, "tickSize": -5, "tickColor": "black", "tickWidth": 1, "labelFlush": false, "labelFontSize": 17.5, "labelColor": "black", "labelFont": "DejaVu Sans", "labelPadding": 13, "titleFont": "DejaVu Sans", "titleFontSize": 25, "titleFontStyle": "italic", "titleFontWeight": "normal", "titleColor": "black"},
 "legend": {"labelFont": "DejaVu Sans", "labelFontSize": 17.5, "labelColor": "black"}
}
}
